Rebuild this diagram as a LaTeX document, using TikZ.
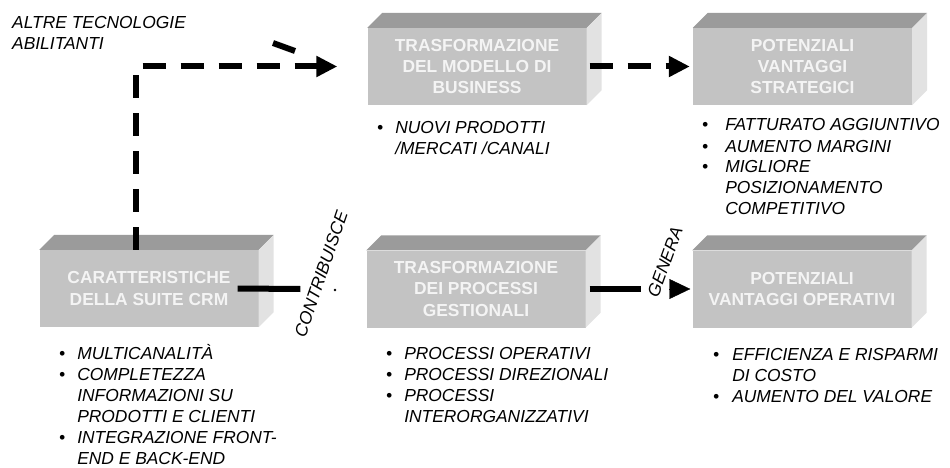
\documentclass[tikz,border=0pt]{standalone}
\usepackage{fontspec}
\setmainfont{Liberation Sans}
\usetikzlibrary{arrows.meta,positioning,calc}
\definecolor{frontgray}{RGB}{195,195,195}
\definecolor{topgray}{RGB}{155,155,155}
\definecolor{sidegray}{RGB}{226,226,226}
\definecolor{boxtext}{RGB}{244,244,244}

\begin{document}
\begin{tikzpicture}[x=1pt, y=-1pt,
    box/.style={rectangle, fill=frontgray, minimum width=219pt, minimum height=77pt,
                inner sep=0pt, align=center, text=boxtext,
                font=\fontsize{17.4}{21.3}\selectfont\bfseries},
    lst/.style={inner sep=0pt, anchor=base west, font=\fontsize{17.4}{21}\selectfont\itshape},
    lbl/.style={inner sep=0pt, font=\fontsize{17.4}{21}\selectfont\itshape},
    ln/.style={line width=6pt},
    dsh/.style={line width=6pt, dash pattern=on 23pt off 15pt},
    tip/.style={-{Triangle[length=21pt,width=20pt]}}
]
\useasboundingbox (0,0) rectangle (950,468);

\node[box] (crm)  at (149,288.5) {CARATTERISTICHE\\DELLA SUITE CRM};
\node[box] (proc) at (476,289)   {TRASFORMAZIONE\\DEI PROCESSI\\GESTIONALI};
\node[box] (vop)  at (802,289)   {POTENZIALI\\VANTAGGI OPERATIVI};
\node[box] (biz)  at (477,66.5)  {TRASFORMAZIONE\\DEL MODELLO DI\\BUSINESS};
\node[box] (vstr) at (802.5,66.5) {POTENZIALI\\VANTAGGI\\STRATEGICI};

% top and side faces of the blocks
\foreach \b in {crm,proc,vop,biz,vstr} {
  \fill[topgray] (\b.north west) -- ++(15,-15) -- ($(\b.north east)+(15,-15)$) -- (\b.north east) -- cycle;
  \fill[sidegray] (\b.north east) -- ++(15,-15) -- ($(\b.south east)+(15,-15)$) -- (\b.south east) -- cycle;
}

\node[lst] (altre) at (12,29) {\begin{tabular}[t]{@{}l@{}}ALTRE TECNOLOGIE\\ABILITANTI\end{tabular}};

\node[lst] (crmlist) at (59,359) {\begin{tabular}[t]{@{}l@{\hspace{12pt}}l@{}}
\textbullet & MULTICANALITÀ\\
\textbullet & COMPLETEZZA\\
 & INFORMAZIONI SU\\
 & PRODOTTI E CLIENTI\\
\textbullet & INTEGRAZIONE FRONT-\\
 & END E BACK-END
\end{tabular}};
\node[lst] (proclist) at (386,359) {\begin{tabular}[t]{@{}l@{\hspace{12pt}}l@{}}
\textbullet & PROCESSI OPERATIVI\\
\textbullet & PROCESSI DIREZIONALI\\
\textbullet & PROCESSI\\
 & INTERORGANIZZATIVI
\end{tabular}};
\node[lst] (voplist) at (713,360) {\begin{tabular}[t]{@{}l@{\hspace{13pt}}l@{}}
\textbullet & EFFICIENZA E RISPARMI\\
 & DI COSTO\\
\textbullet & AUMENTO DEL VALORE
\end{tabular}};
\node[lst] (bizlist) at (377,133) {\begin{tabular}[t]{@{}l@{\hspace{12pt}}l@{}}
\textbullet & NUOVI PRODOTTI\\
 & /MERCATI /CANALI
\end{tabular}};
\node[lst] (vstrlist) at (702,131) {\begin{tabular}[t]{@{}l@{\hspace{17pt}}l@{}}
\textbullet & FATTURATO AGGIUNTIVO\\
\textbullet & AUMENTO MARGINI\\
\textbullet & MIGLIORE\\
 & POSIZIONAMENTO\\
 & COMPETITIVO
\end{tabular}};

% dashed links
\draw[dsh, tip, shorten >=30pt] ([xshift=-13pt]crm.north) |- (biz.west);
\draw[ln] (273,43) -- (295,51);
\draw[dsh, tip, shorten <=3pt, shorten >=3pt] (biz.east) -- (vstr.west);

% solid links
\draw[ln] ([xshift=-21pt]crm.east) -- ([xshift=-66pt]proc.west);
\node[lbl, rotate=71] (contr) at (321,274) {CONTRIBUISCE};
\fill (335,290) circle (1.3pt);
\draw[ln] ([xshift=4pt]proc.east) -- ([xshift=-51pt]vop.west);
\node[lbl, rotate=70] (gen) at (665,262) {GENERA};
\draw[tip] ([xshift=-21pt]vop.west) -- ([xshift=-2pt]vop.west);
\end{tikzpicture}
\end{document}
